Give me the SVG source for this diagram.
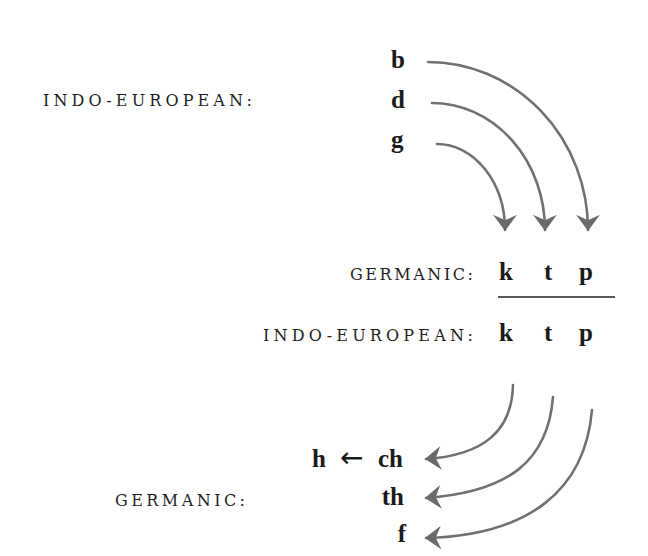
<svg xmlns="http://www.w3.org/2000/svg" width="648" height="556" viewBox="0 0 648 556">
<style>
.lab{font-family:"DejaVu Serif","Liberation Serif",serif;font-size:16px;fill:#1e1e1e;}
.ph{font-family:"Liberation Serif","DejaVu Serif",serif;font-size:25px;font-weight:bold;fill:#1a1a1a;}
.arr{fill:none;stroke:#707070;stroke-width:2.6;stroke-linecap:round;}
</style>
<defs>
<marker id="ah" markerUnits="userSpaceOnUse" markerWidth="26" markerHeight="26" viewBox="-15 -12 17 24" refX="0" refY="0" orient="auto">
<path d="M1,0 L-14,-11 L-9,0 L-14,11 Z" fill="#6a6a6a"/>
</marker>
</defs>
<rect width="648" height="556" fill="#ffffff"/>
<g id="ie-top-label"><text class="lab" x="43" y="106" textLength="209" lengthAdjust="spacing">INDO-EUROPEAN:</text></g>
<g id="b"><text class="ph" x="391" y="68">b</text></g>
<g id="d"><text class="ph" x="391" y="108">d</text></g>
<g id="g"><text class="ph" x="391" y="148">g</text></g>
<g id="germanic-mid-label"><text class="lab" x="350" y="280" textLength="123" lengthAdjust="spacing">GERMANIC:</text></g>
<g id="k1"><text class="ph" x="499" y="280">k</text></g>
<g id="t1"><text class="ph" x="544" y="280">t</text></g>
<g id="p1"><text class="ph" x="579" y="280">p</text></g>
<g id="ie-mid-label"><text class="lab" x="263" y="341" textLength="210" lengthAdjust="spacing">INDO-EUROPEAN:</text></g>
<g id="k2"><text class="ph" x="499" y="341">k</text></g>
<g id="t2"><text class="ph" x="544" y="341">t</text></g>
<g id="p2"><text class="ph" x="579" y="341">p</text></g>
<g id="germanic-bot-label"><text class="lab" x="115" y="506" textLength="130" lengthAdjust="spacing">GERMANIC:</text></g>
<g id="ch"><text class="ph" x="312" y="467">h<tspan x="340" font-weight="normal" font-family="DejaVu Sans" font-size="28">←</tspan><tspan x="378">ch</tspan></text></g>
<g id="th"><text class="ph" x="404" y="505" text-anchor="end">th</text></g>
<g id="f"><text class="ph" x="406" y="542" text-anchor="end">f</text></g>
<g id="connectors">
<line x1="498" y1="297" x2="615" y2="297" stroke="#222" stroke-width="1.5"/>
<path class="arr" d="M428,62 A160,168 0 0 1 588,230" marker-end="url(#ah)"/>
<path class="arr" d="M432,103 A113,127 0 0 1 545,230" marker-end="url(#ah)"/>
<path class="arr" d="M437,144 A68,86 0 0 1 505,230" marker-end="url(#ah)"/>
<path class="arr" d="M513,385 C512,430 485,455 426,459" marker-end="url(#ah)"/>
<path class="arr" d="M553,397 C548,460 510,492 426,498" marker-end="url(#ah)"/>
<path class="arr" d="M592,410 C585,490 530,535 426,538" marker-end="url(#ah)"/>
</g>
</svg>
